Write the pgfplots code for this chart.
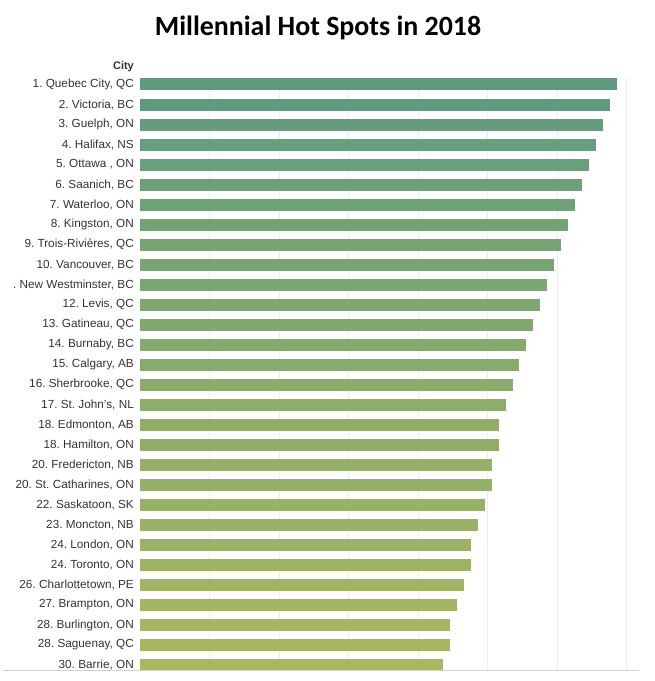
\documentclass[border=0pt]{standalone}
\usepackage{fontspec}
\setmainfont{Liberation Sans}
\newfontfamily\titlefont{Carlito}
\usepackage{pgfplots}
\pgfplotsset{compat=1.18}
\frenchspacing
\definecolor{topc}{RGB}{94,154,128}
\definecolor{botc}{RGB}{169,184,94}
\definecolor{lab}{RGB}{51,51,51}
\definecolor{gridc}{RGB}{238,238,238}
\definecolor{basec}{RGB}{210,210,210}
\begin{document}
\begin{tikzpicture}[x=1bp,y=1bp]
\path[use as bounding box] (0,0) rectangle (655,681);
\begin{axis}[
  at={(140bp,10bp)}, anchor=south west,
  scale only axis, width=499bp, height=594bp,
  xmin=0, xmax=7.18, ymin=0.625, ymax=30.3,
  y dir=reverse,
  xbar, bar width=12bp, bar shift=0pt,
  axis line style={draw=none},
  xtick={1,...,7}, xticklabels={},
  xmajorgrids, major grid style={gridc, line width=0.8bp},
  major tick length=0pt,
  ytick={1,...,30},
  yticklabels={{1. Quebec City, QC},{2. Victoria, BC},{3. Guelph, ON},{4. Halifax, NS},{5. Ottawa , ON},{6. Saanich, BC},{7. Waterloo, ON},{8. Kingston, ON},{9. Trois-Rivières, QC},{10. Vancouver, BC},{. New Westminster, BC},{12. Levis, QC},{13. Gatineau, QC},{14. Burnaby, BC},{15. Calgary, AB},{16. Sherbrooke, QC},{17. St. John's, NL},{18. Edmonton, AB},{18. Hamilton, ON},{20. Fredericton, NB},{20. St. Catharines, ON},{22. Saskatoon, SK},{23. Moncton, NB},{24. London, ON},{24. Toronto, ON},{26. Charlottetown, PE},{27. Brampton, ON},{28. Burlington, ON},{28. Saguenay, QC},{30. Barrie, ON}},
  yticklabel style={font=\frenchspacing\fontsize{11.8}{12}\selectfont, text=lab, inner sep=0pt, xshift=-6bp},
  clip=false,
]
\addplot[draw=none, fill=topc!100!botc] coordinates {(6.86,1)};
\addplot[draw=none, fill=topc!96!botc] coordinates {(6.76,2)};
\addplot[draw=none, fill=topc!92!botc] coordinates {(6.66,3)};
\addplot[draw=none, fill=topc!88!botc] coordinates {(6.56,4)};
\addplot[draw=none, fill=topc!84!botc] coordinates {(6.46,5)};
\addplot[draw=none, fill=topc!80!botc] coordinates {(6.36,6)};
\addplot[draw=none, fill=topc!76!botc] coordinates {(6.26,7)};
\addplot[draw=none, fill=topc!72!botc] coordinates {(6.16,8)};
\addplot[draw=none, fill=topc!68!botc] coordinates {(6.06,9)};
\addplot[draw=none, fill=topc!64!botc] coordinates {(5.96,10)};
\addplot[draw=none, fill=topc!60!botc] coordinates {(5.86,11)};
\addplot[draw=none, fill=topc!56!botc] coordinates {(5.76,12)};
\addplot[draw=none, fill=topc!52!botc] coordinates {(5.66,13)};
\addplot[draw=none, fill=topc!48!botc] coordinates {(5.56,14)};
\addplot[draw=none, fill=topc!44!botc] coordinates {(5.46,15)};
\addplot[draw=none, fill=topc!40!botc] coordinates {(5.36,16)};
\addplot[draw=none, fill=topc!36!botc] coordinates {(5.26,17)};
\addplot[draw=none, fill=topc!32!botc] coordinates {(5.16,18)};
\addplot[draw=none, fill=topc!32!botc] coordinates {(5.16,19)};
\addplot[draw=none, fill=topc!28!botc] coordinates {(5.06,20)};
\addplot[draw=none, fill=topc!28!botc] coordinates {(5.06,21)};
\addplot[draw=none, fill=topc!24!botc] coordinates {(4.96,22)};
\addplot[draw=none, fill=topc!20!botc] coordinates {(4.86,23)};
\addplot[draw=none, fill=topc!16!botc] coordinates {(4.76,24)};
\addplot[draw=none, fill=topc!16!botc] coordinates {(4.76,25)};
\addplot[draw=none, fill=topc!12!botc] coordinates {(4.66,26)};
\addplot[draw=none, fill=topc!8!botc] coordinates {(4.56,27)};
\addplot[draw=none, fill=topc!4!botc] coordinates {(4.46,28)};
\addplot[draw=none, fill=topc!4!botc] coordinates {(4.46,29)};
\addplot[draw=none, fill=topc!0!botc] coordinates {(4.36,30)};
\end{axis}
\draw[basec, line width=1bp] (3,10) -- (639,10);
\node[anchor=east, inner sep=0pt, text=lab, font=\bfseries\fontsize{11}{12}\selectfont] at (134,614) {City};
\node[font=\titlefont\bfseries\fontsize{28}{30}\selectfont] at (318,653) {Millennial Hot Spots in 2018};
\end{tikzpicture}
\end{document}
